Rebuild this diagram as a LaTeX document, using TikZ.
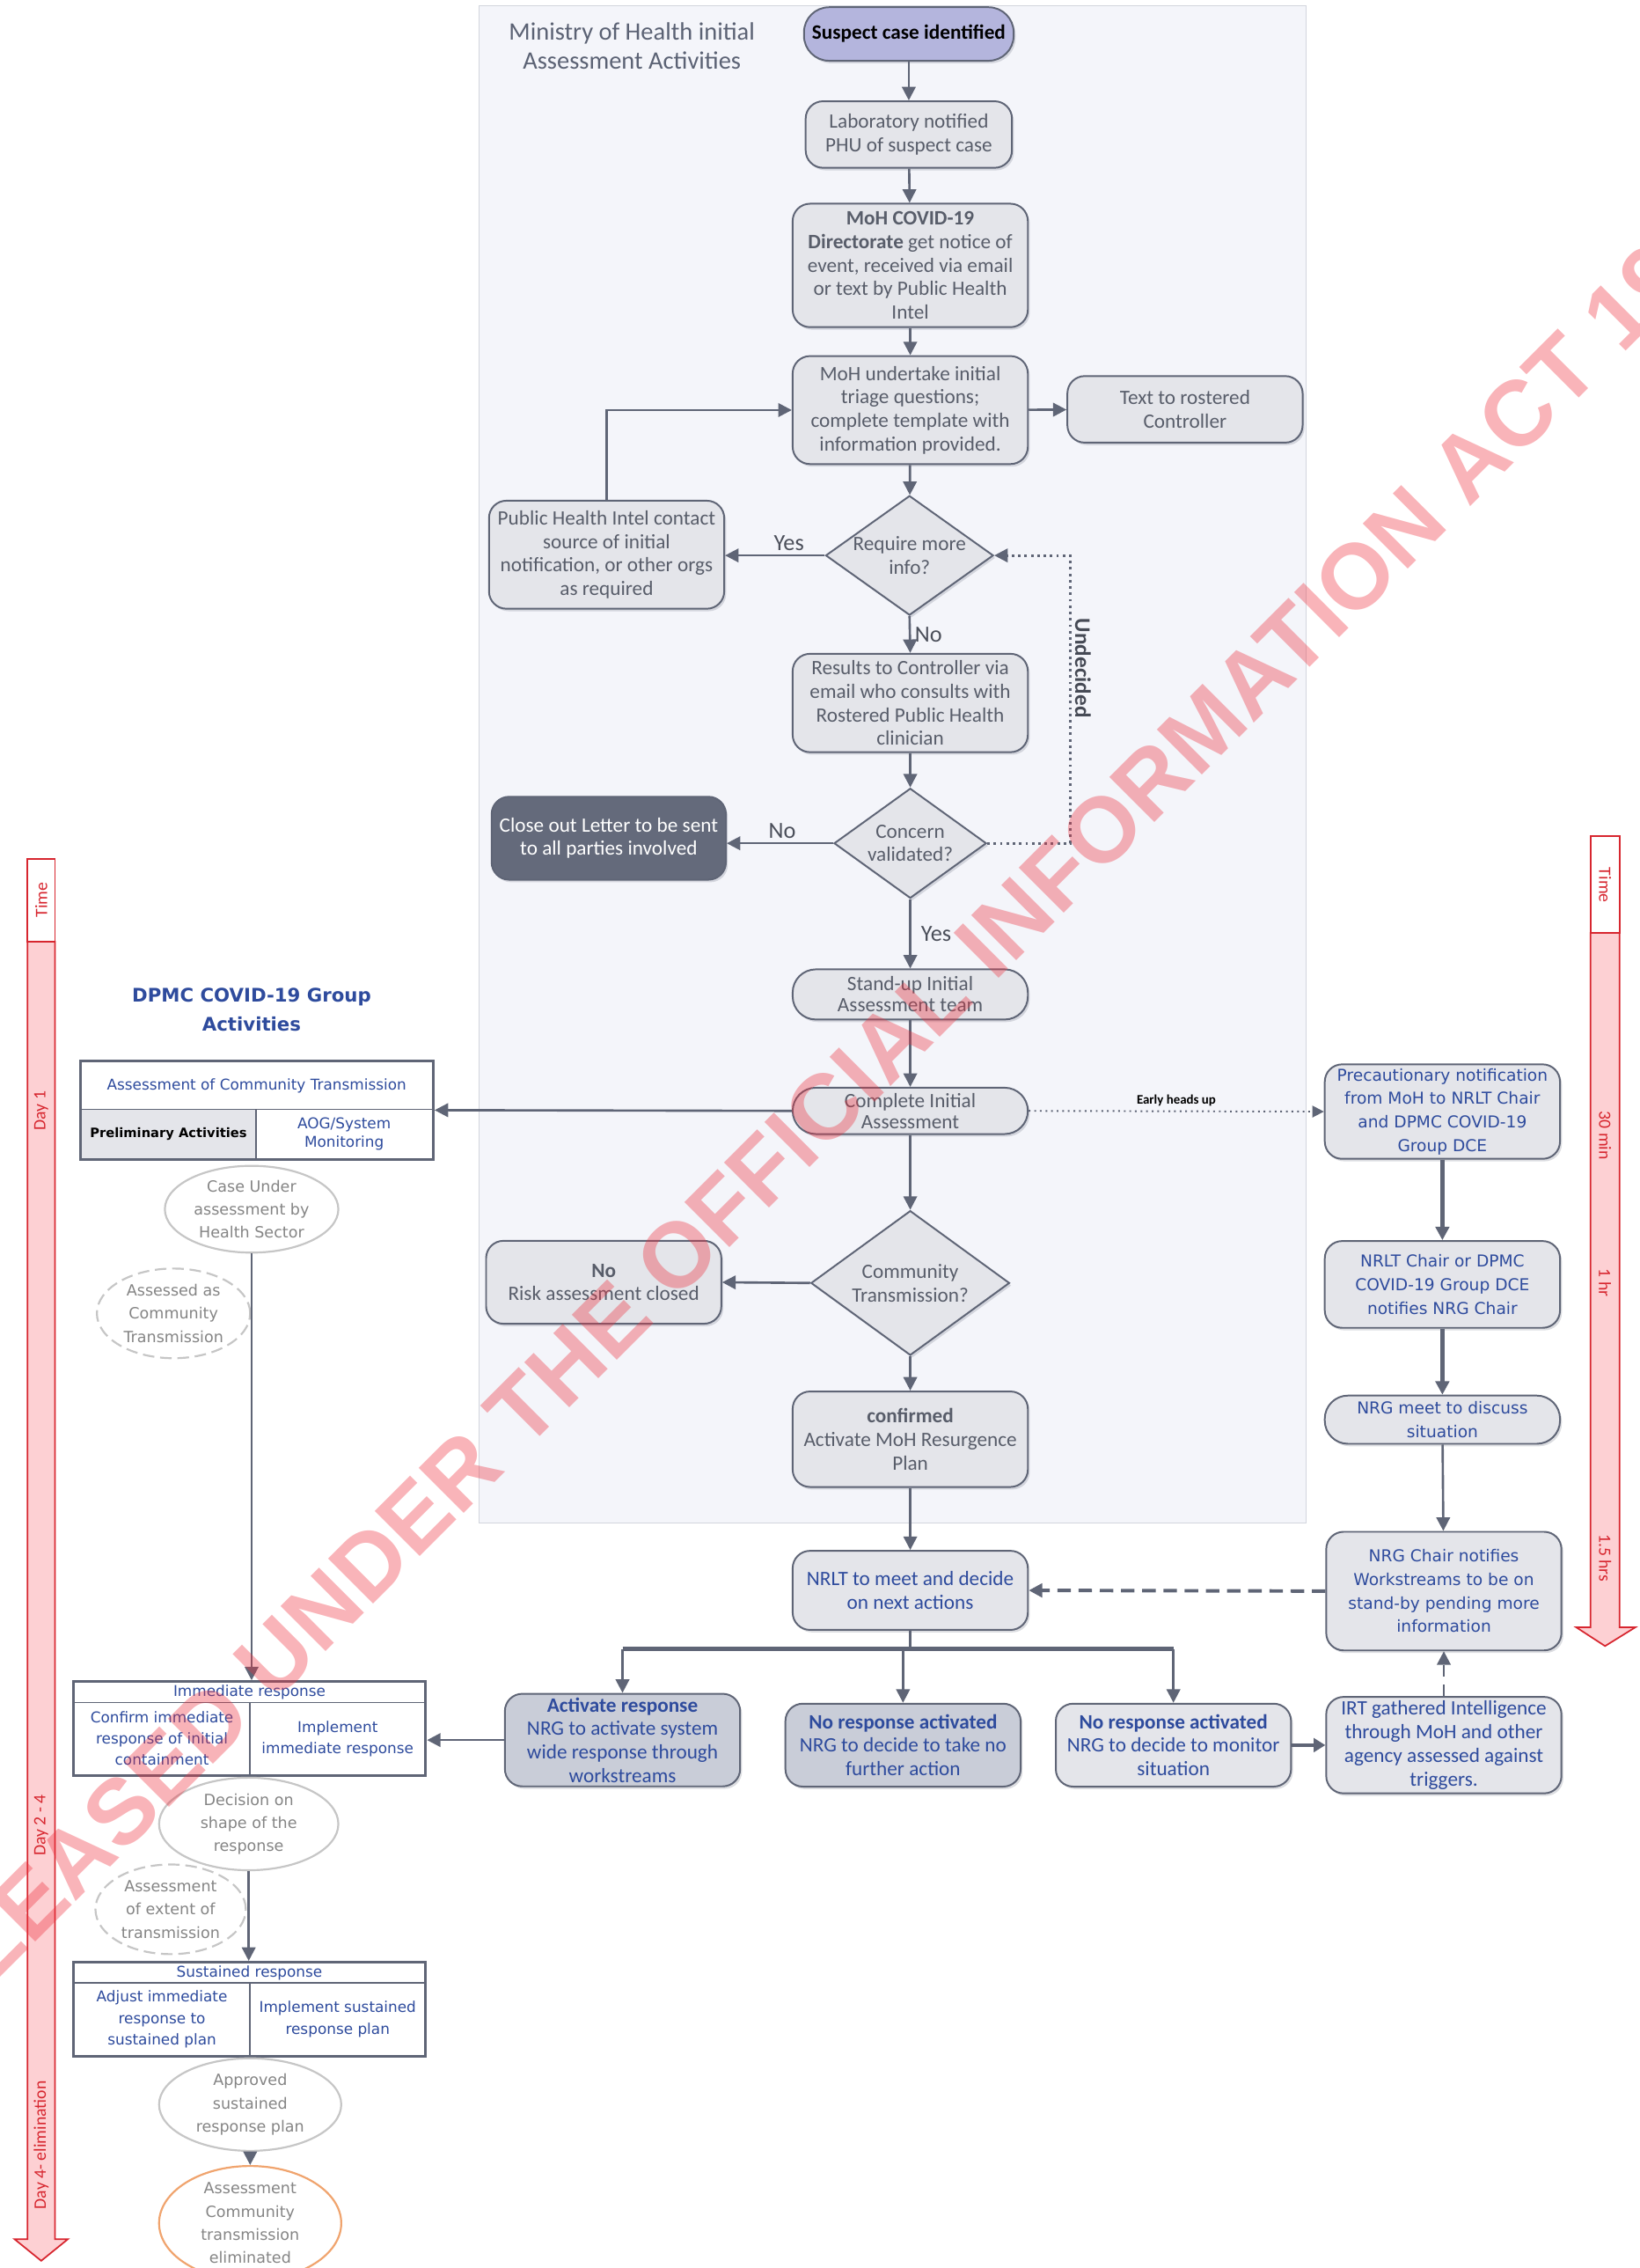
\documentclass[tikz,border=0pt]{standalone}
\usepackage{fontspec}
\setmainfont{Carlito}
\newfontfamily\widefont{DejaVu Sans}
\newfontfamily\markfont{Liberation Sans}
\usetikzlibrary{arrows.meta,shapes.geometric,shadows,fit}

\definecolor{panelfill}{HTML}{F4F5FA}
\definecolor{panelline}{HTML}{D2D5DD}
\definecolor{boxfill}{HTML}{E4E5EA}
\definecolor{darkfill}{HTML}{C9CDD8}
\definecolor{boxline}{HTML}{5F6576}
\definecolor{boxtext}{HTML}{585D6A}
\definecolor{titletext}{HTML}{5B6274}
\definecolor{closefill}{HTML}{646A7B}
\definecolor{suspectfill}{HTML}{B4B5DD}
\definecolor{dpmcblue}{HTML}{2E4B9D}
\definecolor{ellline}{HTML}{C6C6C6}
\definecolor{elltext}{HTML}{858585}
\definecolor{timered}{HTML}{D7262F}
\definecolor{timefill}{HTML}{FDD0D3}
\definecolor{elimline}{HTML}{F0A46E}
\definecolor{markred}{HTML}{EE2F3C}

\newcommand{\boxfont}{\fontsize{10.6}{12.2}\selectfont}
\newcommand{\widetxt}{\widefont\fontsize{8.5}{12.2}\selectfont}

\tikzset{
  shade box/.style={drop shadow={shadow xshift=1pt,shadow yshift=-1.3pt,opacity=.22,fill=boxline}},
  mohbox/.style={draw=boxline, fill=boxfill, line width=0.9pt, rounded corners=9pt, align=center,
    text=boxtext, font=\boxfont, inner sep=1pt, minimum width=122pt, shade box},
  pillbox/.style={mohbox, rounded corners=12pt},
  decision/.style={diamond, draw=boxline, fill=boxfill, line width=0.9pt, aspect=1.4, inner sep=0pt,
    align=center, text=boxtext, font=\boxfont, shade box},
  bluebox/.style={mohbox, text=dpmcblue},
  widebox/.style={bluebox, font=\widetxt},
  cell/.style={draw=boxline, line width=0.8pt, fill=white, align=center, text=dpmcblue,
    font=\widefont\fontsize{7.7}{11}\selectfont, inner sep=0pt},
  tablebox/.style={draw=boxline, line width=1.5pt, inner sep=0pt},
  bubble/.style={ellipse, draw=ellline, line width=1pt, fill=white, align=center, text=elltext,
    font=\widefont\fontsize{8}{12}\selectfont, inner sep=0pt},
  lbl/.style={text=boxtext!85!black, font=\fontsize{12}{13}\selectfont, inner sep=2pt},
  arr/.style={draw=boxline, line width=1.2pt, -{Triangle[length=7pt,width=7pt]}},
  timetxt/.style={text=timered, font=\fontsize{9}{10}\selectfont, inner sep=0pt},
}

\begin{document}
\begin{tikzpicture}[x=0.75pt,y=0.75pt,yscale=-1,xscale=1]
\useasboundingbox (0,0) rectangle (1134,1568);

% MoH panel
\draw[draw=panelline, fill=panelfill] (331,4) rectangle (903,1053);
\node[text=titletext, font=\fontsize{13}{15}\selectfont, align=center] (mohtitle) at (437,32) {Ministry of Health initial\\Assessment Activities};

% MoH column
\node[pillbox, fill=suspectfill, text=black, font=\boxfont\bfseries, minimum width=108.75pt, minimum height=27.75pt, rounded corners=13pt] (suspect) at (628.5,23.5) {Suspect case identified};
\node[mohbox, minimum width=107pt, minimum height=34.5pt] (lab) at (628.5,93) {Laboratory notified\\PHU of suspect case};
\node[mohbox, minimum height=64pt] (dir) at (629.5,183.5) {\textbf{MoH COVID-19}\\\textbf{Directorate} get notice of\\event, received via email\\or text by Public Health\\Intel};
\node[mohbox, minimum height=56pt] (triage) at (629.5,283.5) {MoH undertake initial\\triage questions;\\complete template with\\information provided.};
\node[mohbox, minimum height=34.5pt] (roster) at (819.5,283) {Text to rostered\\Controller};
\node[decision, minimum width=87pt, minimum height=62pt] (req) at (629,384) {Require more\\info?};
\node[mohbox, minimum height=56pt] (phi) at (419.5,383.5) {Public Health Intel contact\\source of initial\\notification, or other orgs\\as required};
\node[mohbox, minimum height=51pt] (res) at (629.5,486) {Results to Controller via\\email who consults with\\Rostered Public Health\\clinician};
\node[decision, minimum width=79pt, minimum height=57pt] (con) at (629.5,583) {Concern\\validated?};
\node[mohbox, fill=closefill, text=white, minimum width=121.5pt, minimum height=43pt] (close) at (421,579.5) {Close out Letter to be sent\\to all parties involved};
\node[pillbox, minimum height=26pt, font=\fontsize{10.6}{11}\selectfont] (stand) at (629.5,687.5) {Stand-up Initial\\Assessment team};
\node[pillbox, minimum height=24pt, inner sep=0pt, font=\fontsize{10.6}{11}\selectfont] (complete) at (629.5,768) {Complete Initial\\Assessment};
\node[decision, minimum width=103pt, minimum height=75pt] (comm) at (629.5,887) {Community\\Transmission?};
\node[mohbox, minimum height=43pt] (risk) at (417.5,886.5) {\textbf{No}\\Risk assessment closed};
\node[mohbox, minimum height=49.5pt] (confirmed) at (629.5,995) {\textbf{confirmed}\\Activate MoH Resurgence\\Plan};

% response row
\node[bluebox, minimum height=41pt] (nrlt) at (629.5,1099.5) {NRLT to meet and decide\\on next actions};
\node[bluebox, fill=darkfill, minimum height=48pt] (activate) at (430.5,1203) {\textbf{Activate response}\\NRG to activate system\\wide response through\\workstreams};
\node[bluebox, fill=darkfill, minimum height=43pt] (noact) at (624.5,1206.5) {\textbf{No response activated}\\NRG to decide to take no\\further action};
\node[bluebox, minimum height=43pt] (monitor) at (811.5,1206.5) {\textbf{No response activated}\\NRG to decide to monitor\\situation};
\node[bluebox, minimum height=50pt] (irt) at (998.5,1206.5) {IRT gathered Intelligence\\through MoH and other\\agency assessed against\\triggers.};

% NRG column
\node[widebox, minimum height=49pt] (prec) at (997.5,768.5) {Precautionary notification\\from MoH to NRLT Chair\\and DPMC COVID-19\\Group DCE};
\node[widebox, minimum height=45pt] (chair) at (997.5,888) {NRLT Chair or DPMC\\COVID-19 Group DCE\\notifies NRG Chair};
\node[widebox, rounded corners=12pt, minimum height=25pt, inner sep=0pt] (meet) at (997.5,981.5) {NRG meet to discuss\\situation};
\node[widebox, minimum height=61.5pt] (standby) at (998.5,1100) {NRG Chair notifies\\Workstreams to be on\\stand-by pending more\\information};

% DPMC side
\node[text=dpmcblue, font=\widefont\bfseries\fontsize{9.7}{15}\selectfont, align=center] (dpmctitle) at (174,698) {DPMC COVID-19 Group\\Activities};
\node[cell, minimum width=182.25pt, minimum height=24.75pt] (acthead) at (177.5,750.5) {Assessment of Community Transmission};
\node[cell, fill=boxfill, text=black, font=\widefont\bfseries\fontsize{6.7}{8}\selectfont, minimum width=90.75pt, minimum height=25.5pt] (prelim) at (116.5,784) {Preliminary Activities};
\node[cell, minimum width=91.5pt, minimum height=25.5pt, font=\widefont\fontsize{7.7}{9.5}\selectfont] (aog) at (238,784) {AOG/System\\Monitoring};
\node[tablebox, fit=(acthead)(prelim)(aog)] (act) {};

\node[bubble, minimum width=90pt, minimum height=45pt] (case) at (174,836) {Case Under\\assessment by\\Health Sector};
\node[bubble, dashed, dash pattern=on 6pt off 3pt, minimum width=79.5pt, minimum height=46.5pt] (assessed) at (120,908) {Assessed as\\Community\\Transmission};

\node[cell, minimum width=182.25pt, minimum height=10.5pt] (immhead) at (172.5,1170) {Immediate response};
\node[cell, minimum width=91.5pt, minimum height=37.5pt] (confirm) at (112,1202) {Confirm immediate\\response of initial\\containment};
\node[cell, minimum width=90.75pt, minimum height=37.5pt] (implement) at (233.5,1202) {Implement\\immediate response};
\node[tablebox, line width=1.2pt, fit=(immhead)(confirm)(implement)] (imm) {};

\node[bubble, minimum width=93pt, minimum height=48pt] (shape) at (172,1261) {Decision on\\shape of the\\response};
\node[bubble, dashed, dash pattern=on 6pt off 3pt, minimum width=78pt, minimum height=46.5pt] (extent) at (118,1320) {Assessment\\of extent of\\transmission};

\node[cell, minimum width=182.25pt, minimum height=10.5pt] (sushead) at (172.5,1364) {Sustained response};
\node[cell, minimum width=91.5pt, minimum height=37.5pt] (adjust) at (112,1396) {Adjust immediate\\response to\\sustained plan};
\node[cell, minimum width=90.75pt, minimum height=37.5pt] (sustain) at (233.5,1396) {Implement sustained\\response plan};
\node[tablebox, line width=1.2pt, fit=(sushead)(adjust)(sustain)] (sus) {};

\node[bubble, minimum width=94.5pt, minimum height=48pt] (approved) at (173,1455) {Approved\\sustained\\response plan};
\node[bubble, draw=elimline, minimum width=94.5pt, minimum height=51pt] (elim) at (173,1537) {Assessment\\Community\\transmission\\eliminated};

% connectors MoH
\draw[arr] (suspect) -- (lab);
\draw[arr] (lab) -- (dir);
\draw[arr] (dir) -- (triage);
\draw[arr] (triage) -- (roster);
\draw[arr] (triage) -- (req);
\draw[arr] (req.west) -- node[lbl, above, pos=0.36] (yes1) {Yes} (req.west -| phi.east);
\draw[arr] (phi.north) |- (triage.west);
\draw[arr] (req.south) -- node[lbl, right] (no1) {No} (res.north);
\draw[arr] (res) -- (con);
\draw[arr] (con.west) -- node[lbl, above, pos=0.48] (no2) {No} (con.west -| close.east);
\coordinate (undec) at (740,583);
\draw[arr, line width=1.3pt, dotted, -{Triangle[length=7pt,width=7pt]}] (con.east) -- (undec) |- (req.east);
\node[rotate=-90, text=boxtext!80!black, font=\fontsize{11.5}{12}\selectfont\bfseries] (undeclbl) at (749,462) {Undecided};
\draw[arr] (con.south) -- node[lbl, right, xshift=3pt] (yes2) {Yes} (stand.north);
\draw[arr] (stand) -- (complete);
\draw[arr] (complete.west) -- (act.east);
\draw[arr, line width=0.9pt, dotted, -{Triangle[length=6pt,width=6pt]}] (complete.east) -- node[above, text=black, font=\fontsize{6.8}{7}\selectfont\bfseries, inner sep=2pt] (heads) {Early heads up} (prec.west);
\draw[arr] (complete) -- (comm);
\draw[arr] (comm.west) -- (risk.east);
\draw[arr] (comm) -- (confirmed);
\draw[arr] (confirmed) -- (nrlt);

% connectors response
\coordinate (split) at (629.5,1140);
\draw[boxline, line width=1.2pt] (nrlt.south) -- (split);
\draw[boxline, line width=2pt] (split -| activate.north) -- (split -| monitor.north);
\draw[arr] (split -| activate.north) -- (activate.north);
\draw[arr] (split -| noact.north) -- (noact.north);
\draw[arr] (split -| monitor.north) -- (monitor.north);
\draw[arr] (activate.west) -- (activate.west -| imm.east);
\draw[arr, line width=2pt, -{Triangle[length=6pt,width=7pt]}] (monitor.east) -- (irt.west);
\draw[arr, dashed, dash pattern=on 6pt off 4pt] (irt.north) -- (standby.south);
\draw[arr, line width=1.8pt, dash pattern=on 7pt off 4pt] (standby.west) -- (nrlt.east);
\draw[arr, line width=2pt] (prec) -- (chair);
\draw[arr, line width=2pt] (chair) -- (meet);
\draw[arr] (meet) -- (standby);

% connectors DPMC
\draw[arr] (case.south) -- (case.south |- imm.north);
\draw[arr] (shape.south) -- (shape.south |- sus.north);
\draw[arr] (approved) -- (elim);

% time arrows
\draw[timered, fill=white, line width=0.8pt] (19,594) rectangle (38,651);
\draw[timered, fill=timefill, line width=0.8pt] (19,651) -- (19,1548) -- (10,1548) -- (28.5,1563) -- (47,1548) -- (38,1548) -- (38,651) -- cycle;
\node[timetxt, rotate=90] (ltime) at (28.5,622) {Time};
\node[timetxt, rotate=90] (day1) at (28.5,768) {Day 1};
\node[timetxt, rotate=90] (day2) at (28.5,1262) {Day 2 - 4};
\node[timetxt, rotate=90] (day4) at (28.5,1483) {Day 4- elimination};

\draw[timered, fill=white, line width=0.8pt] (1100,578) rectangle (1120,645);
\draw[timered, fill=timefill, line width=0.8pt] (1100,645) -- (1100,1125) -- (1090,1125) -- (1110,1138) -- (1131,1125) -- (1120,1125) -- (1120,645) -- cycle;
\node[timetxt, rotate=-90] (rtime) at (1110,612) {Time};
\node[timetxt, rotate=-90] (min30) at (1110,785) {30 min};
\node[timetxt, rotate=-90] (hr1) at (1110,887) {1 hr};
\node[timetxt, rotate=-90] (hr15) at (1110,1077) {1.5 hrs};

% watermark
\begin{scope}
\clip (0,0) rectangle (1134,1568);
\node[rotate=45, text=markred, opacity=.36, font=\markfont\bfseries\fontsize{48}{48}\selectfont] (stamp) at (561,775) {RELEASED UNDER THE OFFICIAL INFORMATION ACT 1982};
\end{scope}

\end{tikzpicture}
\end{document}
